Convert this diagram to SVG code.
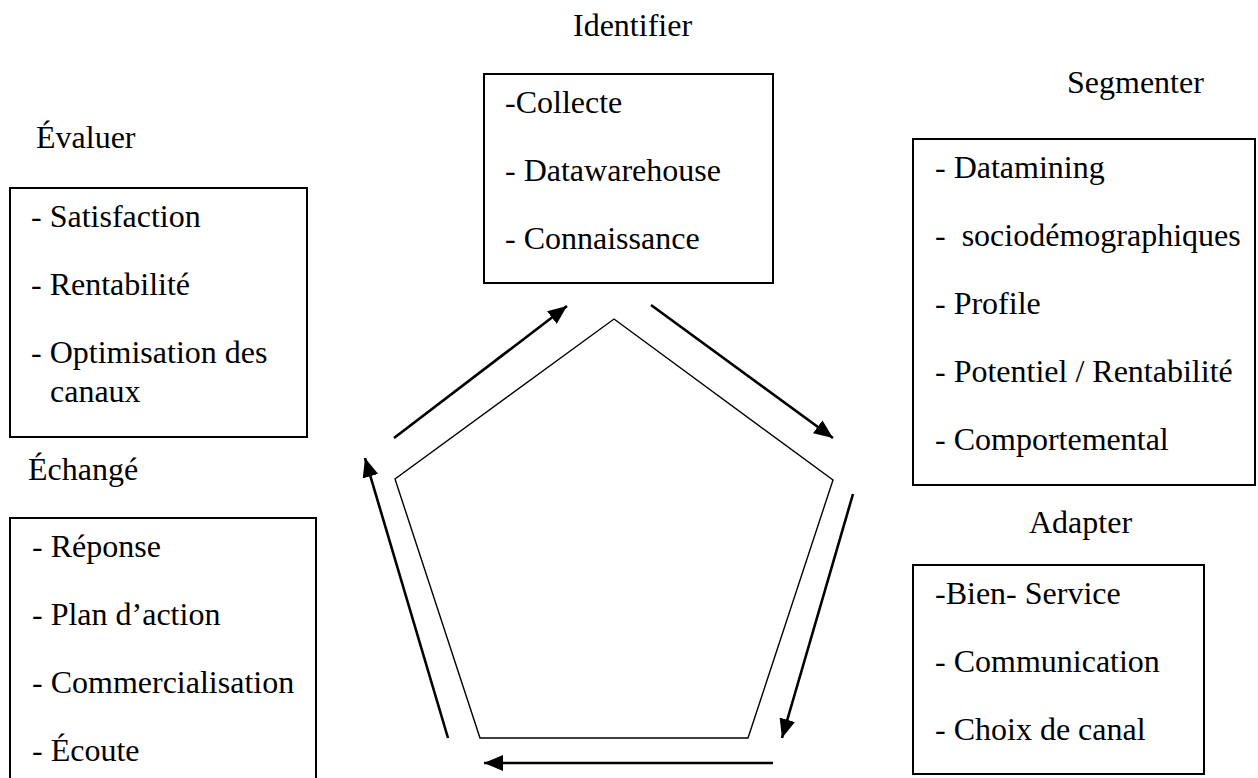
<svg xmlns="http://www.w3.org/2000/svg" width="1258" height="778" viewBox="0 0 1258 778">
<style>
text{font-family:'Liberation Serif','Times New Roman','DejaVu Serif',serif;font-size:32px;fill:#000}
.box{fill:#fff;stroke:#000;stroke-width:2}
.pent{fill:none;stroke:#000;stroke-width:1.4}
.arr{stroke:#000;stroke-width:2.6;fill:none;marker-end:url(#ah)}
</style>
<defs>
<marker id="ah" markerUnits="userSpaceOnUse" markerWidth="20" markerHeight="16" refX="19" refY="8" orient="auto">
<path d="M0,0 L19,8 L0,16 z" fill="#000"/>
</marker>
</defs>
<rect width="1258" height="778" fill="#fff"/>
<g id="identifier" font-family="Liberation Serif, serif">
<text x="573" y="36">Identifier</text>
<rect class="box" x="484" y="74" width="289" height="209"/>
<text x="505" y="113">-Collecte</text>
<text x="505" y="181">- Datawarehouse</text>
<text x="505" y="249">- Connaissance</text>
</g>
<g id="segmenter" font-family="Liberation Serif, serif">
<text x="1067" y="93">Segmenter</text>
<rect class="box" x="913" y="139" width="342" height="346"/>
<text x="935" y="178">- Datamining</text>
<text x="935" y="246" xml:space="preserve">-  sociodémographiques</text>
<text x="935" y="314">- Profile</text>
<text x="935" y="382">- Potentiel / Rentabilité</text>
<text x="935" y="450">- Comportemental</text>
</g>
<g id="adapter" font-family="Liberation Serif, serif">
<text x="1029" y="533">Adapter</text>
<rect class="box" x="913" y="565" width="291" height="209"/>
<text x="935" y="604">-Bien- Service</text>
<text x="935" y="672">- Communication</text>
<text x="935" y="740">- Choix de canal</text>
</g>
<g id="evaluer" font-family="Liberation Serif, serif">
<text x="36" y="148">Évaluer</text>
<rect class="box" x="10" y="188" width="297" height="249"/>
<text x="31" y="227">- Satisfaction</text>
<text x="31" y="295">- Rentabilité</text>
<text x="31" y="363">- Optimisation des</text>
<text x="50" y="402">canaux</text>
</g>
<g id="echange" font-family="Liberation Serif, serif">
<text x="28" y="480">Échangé</text>
<path class="box" d="M10,780 V518 H316 V780"/>
<text x="32" y="557">- Réponse</text>
<text x="32" y="625">- Plan d’action</text>
<text x="32" y="693">- Commercialisation</text>
<text x="32" y="761">- Écoute</text>
</g>
<g id="pentagon">
<polygon class="pent" points="614,319 833,480 748,738 480,738 395,479"/>
</g>
<g id="connectors">
<line class="arr" x1="394" y1="438" x2="567" y2="306"/>
<line class="arr" x1="651" y1="305" x2="833" y2="438"/>
<line class="arr" x1="853" y1="494" x2="782" y2="738"/>
<line class="arr" x1="773" y1="763" x2="484" y2="763"/>
<line class="arr" x1="448" y1="738" x2="365" y2="458"/>
</g>
</svg>
